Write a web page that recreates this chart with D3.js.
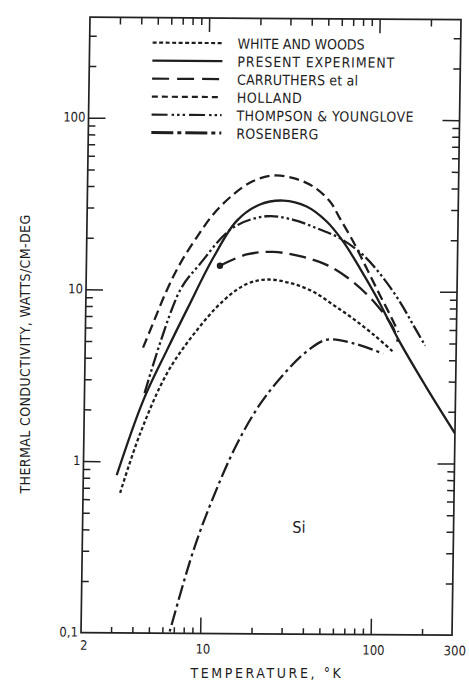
<!DOCTYPE html>
<html>
<head>
<meta charset="utf-8">
<script src="https://cdn.jsdelivr.net/npm/d3@7"></script>
<style>
  body { margin: 0; background: #fff; }
  svg text { font-family: "DejaVu Sans Condensed", "DejaVu Sans", sans-serif; fill: #1e1e1e; }
</style>
</head>
<body>
<div id="chart"></div>
<script>
// Series: [temperature K, conductivity W/cm-deg]
var whiteWoods = [[3.3, 0.655], [4.27, 1.45], [6.04, 3.24], [8.6, 5.5], [12.8, 8.7], [17.5, 10.9],
    [22.9, 11.6], [31.4, 11.1], [43, 9.9], [56.6, 8.3], [74.4, 6.9], [100, 5.5], [128, 4.45]];
var present = [[3.14, 0.83], [4.43, 2.27], [6.02, 4.43], [7.95, 7.9], [11.1, 15.5], [15.1, 25.4],
    [20.6, 31.7], [28.2, 33.5], [38.7, 31], [50.9, 25.4], [63.9, 19.4], [80.5, 13.6], [101, 9.3],
    [140, 5.07], [200, 2.82], [300, 1.5]];
var carruthers = [[12.15, 13.9], [17.4, 16.2], [24.9, 16.8], [35.7, 15.9], [51.3, 14.2], [73.8, 11.3],
    [102, 8.3], [128, 6.1], [136, 5.1]];
var holland = [[4.37, 4.6], [4.89, 6.1], [5.94, 9.9], [7.08, 14.2], [8.83, 20.3], [11, 27.7], [14.4, 36.3],
    [18.7, 43.4], [24.5, 46.8], [32.2, 45.3], [42.2, 40.5], [53, 33.2], [60.8, 26.5], [73.2, 19.4],
    [88.1, 13.6], [106, 9.5], [122, 7.3], [137, 5.8]];
var thompson = [[4.5, 2.5], [7.1, 9.9], [9.27, 14.2], [14.4, 23.2], [22.6, 27.1], [32.4, 25.9],
    [44.5, 23.2], [61.1, 20.3], [84.1, 16.2], [111, 11.9], [139, 8.7], [167, 6.4], [197, 4.85]];
var rosenberg = [[6.2, 0.08], [6.65, 0.104], [8.97, 0.303], [11.6, 0.62], [15.8, 1.27], [21.4, 2.17],
    [29.2, 3.24], [39.9, 4.44], [52.1, 5.2], [74.7, 4.97], [112, 4.34]];

var legendNames = ["WHITE AND WOODS", "PRESENT EXPERIMENT", "CARRUTHERS et al",
    "HOLLAND", "THOMPSON & YOUNGLOVE", "ROSENBERG"];
var legendTextWidths = [127, 157, 121, 65, 177, 82];

var xMinor = [3, 4, 5, 6, 7, 8, 9, 20, 30, 40, 50, 60, 70, 80, 90, 200];
var xMajor = [10, 100];
var xLabelValues = [2, 10, 100, 300];
var xLabels = ["2", "10", "100", "300"];
var yMinor = [0.2, 0.3, 0.4, 0.5, 0.6, 0.7, 0.8, 0.9, 2, 3, 4, 5, 6, 7, 8, 9,
    20, 30, 40, 50, 60, 70, 80, 90, 200, 300];
var yMajor = [1, 10, 100];
var yLabelValues = [0.1, 1, 10, 100];
var yLabels = ["0,1", "1", "10", "100"];

var series = [
    { data: whiteWoods, dash: "3.5,2.5" },
    { data: present, dash: null },
    { data: carruthers, dash: "17,7" },
    { data: holland, dash: "10,5" },
    { data: thompson, dash: "14,3,2.5,3,2.5,3" },
    { data: rosenberg, dash: "15,4,3,4" }
];
var legendDash = ["4,2.5", null, "17,8", "6,4", "16,4,2.5,3,2.5,3,2.5,4", "22,4,4,4"];

var width = 371, height = 615.5;

var svg = d3.select("#chart")
    .append("svg")
    .attr("width", 469)
    .attr("height", 680);

svg.append("rect").attr("width", 469).attr("height", 680).attr("fill", "#fff");

// the scanned figure is slightly skewed, so the plot frame gets the same shear
var g = svg.append("g")
    .attr("transform", "matrix(1,0.00674,-0.01462,1,90,17.2)");

var x = d3.scaleLog().domain([2, 300]).range([0, width]);
var y = d3.scaleLog().domain([0.1, 385]).range([height, 0]);

g.append("clipPath").attr("id", "plotclip")
    .append("rect").attr("width", width).attr("height", height);

// frame
g.append("rect")
    .attr("width", width).attr("height", height)
    .attr("fill", "none").attr("stroke", "#222").attr("stroke-width", 1.7);

function tickAxis(axis, values, size) {
    return axis.tickValues(values).tickSize(-size).tickSizeOuter(0).tickFormat("");
}

function drawAxis(a, transform) {
    var ax = g.append("g").attr("transform", transform).call(a);
    ax.select(".domain").remove();
    ax.selectAll("line").attr("stroke", "#222").attr("stroke-width", 1.5);
}

drawAxis(tickAxis(d3.axisBottom(x), xMinor, 6), "translate(0," + height + ")");
drawAxis(tickAxis(d3.axisBottom(x), xMajor, 16), "translate(0," + height + ")");
drawAxis(tickAxis(d3.axisTop(x), xMinor, 7), "translate(0,0)");
drawAxis(tickAxis(d3.axisTop(x), xMajor, 14), "translate(0,0)");
drawAxis(tickAxis(d3.axisLeft(y), yMinor, 7), "translate(0,0)");
drawAxis(tickAxis(d3.axisLeft(y), yMajor, 17), "translate(0,0)");
drawAxis(tickAxis(d3.axisRight(y), yMinor, 7), "translate(" + width + ",0)");
drawAxis(tickAxis(d3.axisRight(y), yMajor, 17), "translate(" + width + ",0)");

// tick labels
g.selectAll(".xlab").data(xLabelValues).enter().append("text")
    .attr("class", "xlab")
    .attr("x", function (d) { return x(d) + 3; })
    .attr("y", function (d, i) { return height + (i === 0 ? 17 : 20); })
    .attr("text-anchor", "middle")
    .attr("font-size", "13px")
    .text(function (d, i) { return xLabels[i]; });

g.selectAll(".ylab").data(yLabelValues).enter().append("text")
    .attr("class", "ylab")
    .attr("x", -3)
    .attr("y", function (d) { return y(d) + 4; })
    .attr("text-anchor", "end")
    .attr("font-size", "13px")
    .text(function (d, i) { return yLabels[i]; });

// curves
var line = d3.line()
    .x(function (d) { return x(d[0]); })
    .y(function (d) { return y(d[1]); })
    .curve(d3.curveCatmullRom.alpha(0.5));

var curves = g.append("g").attr("clip-path", "url(#plotclip)");
series.forEach(function (s) {
    curves.append("path")
        .datum(s.data)
        .attr("d", line)
        .attr("fill", "none")
        .attr("stroke", "#1e1e1e")
        .attr("stroke-width", 2.3)
        .attr("stroke-dasharray", s.dash);
});

// blob at the start of the Carruthers curve
curves.append("circle")
    .attr("cx", x(carruthers[0][0]))
    .attr("cy", y(carruthers[0][1]))
    .attr("r", 3.2)
    .attr("fill", "#1e1e1e");

// legend
var legend = g.append("g").attr("transform", "translate(63,25)");
legendNames.forEach(function (name, i) {
    var row = legend.append("g").attr("transform", "translate(0," + (i * 18) + ")");
    row.append("line")
        .attr("x1", 0).attr("x2", 70)
        .attr("stroke", "#1e1e1e")
        .attr("stroke-width", i === 5 ? 3 : 2.2)
        .attr("stroke-dasharray", legendDash[i]);
    row.append("text")
        .attr("x", 85).attr("y", 5.5)
        .attr("font-size", "14px")
        .attr("textLength", legendTextWidths[i])
        .text(name);
});

// material label
g.append("text")
    .attr("x", x(34)).attr("y", y(0.39))
    .attr("font-size", "16px")
    .text("Si");

// axis titles
svg.append("text")
    .attr("x", 267).attr("y", 678)
    .attr("text-anchor", "middle")
    .attr("font-size", "14px")
    .attr("letter-spacing", "2.6px")
    .text("TEMPERATURE, °K");

svg.append("text")
    .attr("transform", "translate(30,354) rotate(-90)")
    .attr("text-anchor", "middle")
    .attr("font-size", "14px")
    .attr("letter-spacing", "0.4px")
    .text("THERMAL CONDUCTIVITY, WATTS/CM-DEG");
</script>
</body>
</html>
